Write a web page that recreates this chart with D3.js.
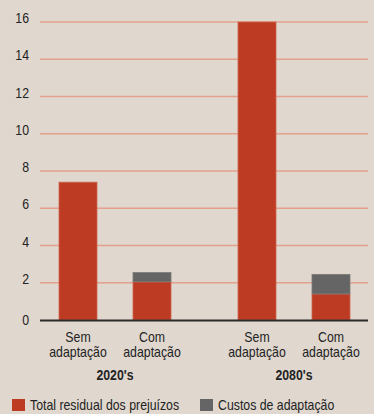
<!DOCTYPE html>
<html>
<head>
<meta charset="utf-8">
<script src="https://cdn.jsdelivr.net/npm/d3@7"></script>
<style>
  html, body { margin: 0; padding: 0; background: #e0d7ce; }
  svg { display: block; }
  text { font-family: "Liberation Sans", Arial, sans-serif; fill: #232323; }
</style>
</head>
<body>
<svg id="chart" width="374" height="414"></svg>
<script>
// Residual damages and adaptation costs by scenario and period
const periods = ["2020's", "2080's"];
const scenarios = ["Sem adaptação", "Com adaptação"];
const barKeys = ["2020-sem", "2020-com", "2080-sem", "2080-com"];
const residual = [7.4, 2.05, 16, 1.4];
const adaptation = [0, 0.5, 0, 1.05];
const yTicks = [0, 2, 4, 6, 8, 10, 12, 14, 16];
const seriesNames = ["Total residual dos prejuízos", "Custos de adaptação"];
const colors = ["#bc3b22", "#656565"];

const svg = d3.select("#chart");
const W = 374, H = 414;
const SQUEEZE = 0.88; // horizontal condensing of the type

svg.append("rect").attr("width", W).attr("height", H).attr("fill", "#e0d7ce");

// condensed text placed at (x, y)
function label(parent, x, y, str, size, anchor, bold) {
  const t = parent.append("text")
    .attr("transform", `translate(${x},${y}) scale(${SQUEEZE},1)`)
    .attr("text-anchor", anchor || "start")
    .style("font-size", size + "px")
    .text(str);
  if (bold) t.style("font-weight", "bold");
  return t;
}

const plotLeft = 40, plotRight = 368;
const y = d3.scaleLinear().domain([0, 16]).range([320, 22]);
const centers = { "2020-sem": 78, "2020-com": 152, "2080-sem": 257, "2080-com": 331 };
const bw = 38;

// title line, mostly above the visible area
label(svg, 6, -4, "Custos anuais (em mil milhões de libras, a preços de 2004)", 13.5);

// grid lines
svg.append("g").selectAll("line").data(yTicks.filter(d => d > 0)).join("line")
  .attr("x1", plotLeft).attr("x2", plotRight)
  .attr("y1", d => y(d)).attr("y2", d => y(d))
  .attr("stroke", "#e3a08c").attr("stroke-width", 1.4);

// y tick labels
const tickG = svg.append("g");
yTicks.forEach(d => {
  label(tickG, 29, y(d) + (d === 0 ? 0 : -4) + 5, d, 14, "end");
});

// stacked bars
const stackData = barKeys.map((k, i) => ({ key: k, residual: residual[i], adaptation: adaptation[i] }));
const stack = d3.stack().keys(["residual", "adaptation"])(stackData);

stack.forEach((layer, li) => {
  svg.append("g").selectAll("rect").data(layer).join("rect")
    .attr("x", d => centers[d.data.key] - bw / 2)
    .attr("width", bw)
    .attr("y", d => y(d[1]))
    .attr("height", d => y(d[0]) - y(d[1]))
    .attr("fill", colors[li])
    .attr("stroke", li === 0 ? "#cf6650" : "#7d7a78")
    .attr("stroke-width", 0.8);
});

// baseline
svg.append("line")
  .attr("x1", plotLeft).attr("x2", plotRight)
  .attr("y1", y(0) + 0.5).attr("y2", y(0) + 0.5)
  .attr("stroke", "#2a2a2a").attr("stroke-width", 2);

// category labels
const catLabels = svg.append("g");
barKeys.forEach((k, i) => {
  const words = scenarios[i % 2].split(" ");
  label(catLabels, centers[k], 342, words[0], 14, "middle");
  label(catLabels, centers[k], 357, words[1], 14, "middle");
});

// period labels
periods.forEach((p, i) => {
  const cx = (centers[barKeys[2 * i]] + centers[barKeys[2 * i + 1]]) / 2;
  label(svg, cx, 380, p, 14, "middle", true);
});

// legend
const legendX = [12, 200];
seriesNames.forEach((name, i) => {
  const g = svg.append("g").attr("transform", `translate(${legendX[i]},399)`);
  g.append("rect").attr("width", 13).attr("height", 12).attr("fill", colors[i]);
  label(g, 18, 11, name, 14, "start");
});
</script>
</body>
</html>
